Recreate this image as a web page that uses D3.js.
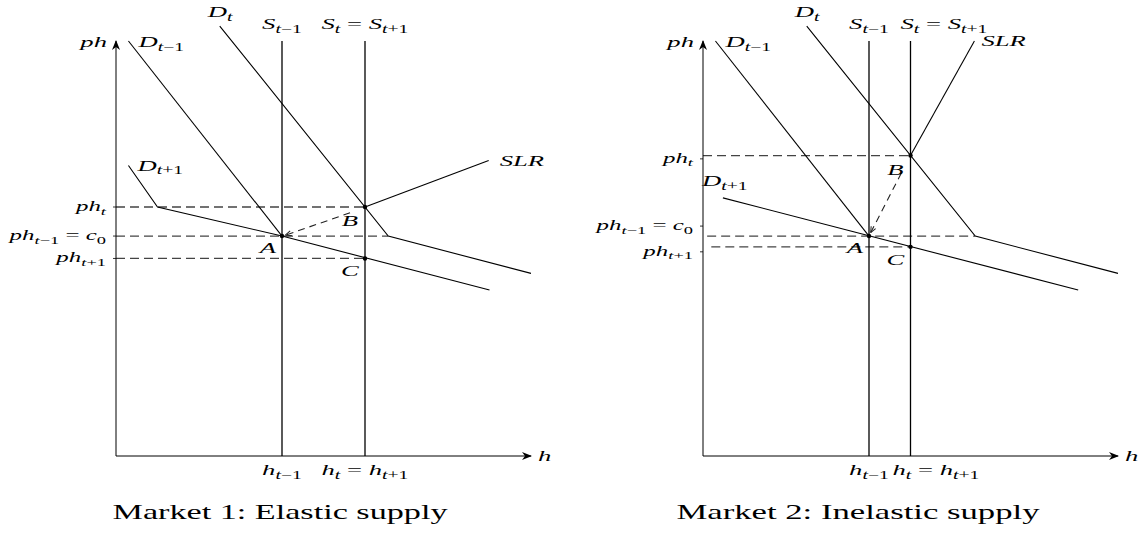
<!DOCTYPE html>
<html>
<head>
<meta charset="utf-8">
<script src="https://cdn.jsdelivr.net/npm/d3@7"></script>
<style>
  body { margin: 0; background: #fff; }
  text { font-family: "Liberation Serif", serif; fill: #000; }
</style>
</head>
<body>
<div id="chart"></div>
<script>
// both axes run 0..5 in model units
var axisMax = 5;
var captions = ["Market 1: Elastic supply", "Market 2: Inelastic supply"];

// demand curves shared by both markets
var demandPrev = [[0.15, 5.0], [2, 2.65]];
var demandNow = [[1.25, 5.18], [3.28, 2.65], [5.0, 2.2]];

// market 1 (elastic)
var supply1 = [2, 3];                 // h_{t-1}, h_t = h_{t+1}
var prices1 = [3.0, 2.65, 2.38];      // ph_t, ph_{t-1}, ph_{t+1}
var priceLabelY1 = [3.0, 2.65, 2.38];
var dashStart1 = [0, 0, 0];
var demandNext1 = [[0.15, 3.5], [0.5, 3.0], [2, 2.65], [4.5, 2.0]];
var slr1 = [[3, 3.0], [4.49, 3.56]];
var arrowBA1 = [[2.82, 2.93], [2.04, 2.66]];

// market 2 (inelastic)
var supply2 = [2, 2.5];
var prices2 = [3.62, 2.65, 2.52];
var priceLabelY2 = [3.58, 2.77, 2.46];
var dashStart2 = [0, 0.05, 0.1];
var demandNext2 = [[0.24, 3.11], [4.52, 2.0]];
var slr2 = [[2.5, 3.62], [3.27, 5.0]];
var arrowBA2 = [[2.39, 3.41], [2.02, 2.69]];

var W = 1139, H = 536;
var SX = 1.72;   // glyphs in the figure are stretched sideways

var panels = [
  { left: 116, captionX: 280, captionLen: 335, caption: captions[0],
    h: supply1, p: prices1, pLab: priceLabelY1, dashStart: dashStart1,
    dNext: demandNext1, slr: slr1, arrow: arrowBA1, inelastic: false },
  { left: 703, captionX: 858, captionLen: 363, caption: captions[1],
    h: supply2, p: prices2, pLab: priceLabelY2, dashStart: dashStart2,
    dNext: demandNext2, slr: slr2, arrow: arrowBA2, inelastic: true }
];

var svg = d3.select("#chart").append("svg")
    .attr("width", W)
    .attr("height", H);

svg.append("rect").attr("width", W).attr("height", H).attr("fill", "#fff");

var defs = svg.append("defs");
defs.append("marker")
    .attr("id", "axisArrow")
    .attr("markerUnits", "userSpaceOnUse")
    .attr("viewBox", "-10 -5 12 10")
    .attr("refX", 0).attr("refY", 0)
    .attr("markerWidth", 12).attr("markerHeight", 10)
    .attr("orient", "auto")
    .append("path")
    .attr("d", "M1,0 L-9,-4 L-6,0 L-9,4 Z")
    .attr("fill", "#000");
defs.append("marker")
    .attr("id", "dashArrow")
    .attr("markerUnits", "userSpaceOnUse")
    .attr("viewBox", "-8 -4 10 8")
    .attr("refX", 0).attr("refY", 0)
    .attr("markerWidth", 10).attr("markerHeight", 8)
    .attr("orient", "auto")
    .append("path")
    .attr("d", "M0,0 L-6,-2.5 M0,0 L-6,2.5")
    .attr("stroke", "#222")
    .attr("stroke-width", 1)
    .attr("fill", "none");

// tiny TeX-ish label: letters italic, _x or _{..} as subscripts
function mathLabel(g, x, y, str, anchor, size) {
  size = size || 15.5;
  var t = g.append("text")
      .attr("transform", "translate(" + x + "," + y + ") scale(" + SX + ",1)")
      .attr("text-anchor", anchor || "start")
      .style("font-size", size + "px")
      .style("white-space", "pre");
  var inSub = false;
  function addRun(s, isSub) {
    var pieces = s.match(/[A-Za-z]+|[^A-Za-z]+/g) || [];
    pieces.forEach(function(piece) {
      var ts = t.append("tspan")
          .style("font-size", (isSub ? size * 0.74 : size) + "px")
          .style("font-style", /[A-Za-z]/.test(piece) ? "italic" : "normal")
          .text(piece.replace(/-/g, "\u2212").replace(/ = /g, "  =  ".slice(1, 4)));
      if (isSub && !inSub) ts.attr("dy", size * 0.25);
      if (!isSub && inSub) ts.attr("dy", -size * 0.25);
      inSub = isSub;
    });
  }
  var i = 0;
  while (i < str.length) {
    if (str[i] === "_") {
      var sub;
      if (str[i + 1] === "{") {
        var close = str.indexOf("}", i);
        sub = str.slice(i + 2, close);
        i = close + 1;
      } else {
        sub = str[i + 1];
        i += 2;
      }
      addRun(sub, true);
    } else {
      var j = i;
      while (j < str.length && str[j] !== "_") j++;
      addRun(str.slice(i, j), false);
      i = j;
    }
  }
  return t;
}

panels.forEach(function(pn) {
  var x = d3.scaleLinear().domain([0, axisMax]).range([pn.left, pn.left + 415]);
  var y = d3.scaleLinear().domain([0, axisMax]).range([456, 41]);
  var line = d3.line().x(function(d) { return x(d[0]); }).y(function(d) { return y(d[1]); });
  var g = svg.append("g");

  var A = [pn.h[0], pn.p[1]],
      B = [pn.h[1], pn.p[0]],
      C = [pn.h[1], pn.p[2]];

  // dashed price guides
  var guideEnd = [pn.h[1], demandNow[1][0], pn.h[1]];
  pn.p.forEach(function(v, i) {
    g.append("line")
        .attr("x1", x(pn.dashStart[i])).attr("x2", x(guideEnd[i]))
        .attr("y1", y(v)).attr("y2", y(v))
        .attr("stroke", "#444")
        .attr("stroke-width", 1.3)
        .attr("stroke-dasharray", "9,5");
  });

  // axes
  g.append("line")
      .attr("x1", x(0)).attr("y1", y(0))
      .attr("x2", x(0)).attr("y2", y(axisMax))
      .attr("stroke", "#000").attr("stroke-width", 1)
      .attr("marker-end", "url(#axisArrow)");
  g.append("line")
      .attr("x1", x(0)).attr("y1", y(0))
      .attr("x2", x(axisMax)).attr("y2", y(0))
      .attr("stroke", "#000").attr("stroke-width", 1)
      .attr("marker-end", "url(#axisArrow)");

  // small ticks next to the price labels
  pn.pLab.forEach(function(v) {
    g.append("line")
        .attr("x1", x(0) - 3).attr("x2", x(0))
        .attr("y1", y(v)).attr("y2", y(v))
        .attr("stroke", "#000").attr("stroke-width", 0.8);
  });

  // vertical supply lines
  pn.h.forEach(function(v) {
    g.append("line")
        .attr("x1", x(v)).attr("x2", x(v))
        .attr("y1", y(0)).attr("y2", y(axisMax))
        .attr("stroke", "#000").attr("stroke-width", 1.3);
  });

  // demand curves and SLR
  [demandPrev, demandNow, pn.dNext, pn.slr].forEach(function(pts) {
    g.append("path")
        .attr("d", line(pts))
        .attr("fill", "none")
        .attr("stroke", "#000")
        .attr("stroke-width", 1.1);
  });

  // B -> A adjustment
  g.append("path")
      .attr("d", line(pn.arrow))
      .attr("fill", "none")
      .attr("stroke", "#222")
      .attr("stroke-width", 1.1)
      .attr("stroke-dasharray", "7,5")
      .attr("marker-end", "url(#dashArrow)");

  [A, B, C].forEach(function(d) {
    g.append("circle")
        .attr("cx", x(d[0])).attr("cy", y(d[1]))
        .attr("r", 2.2)
        .attr("fill", "#000");
  });

  // axis labels
  mathLabel(g, x(0) - 9, y(axisMax) + 6, "ph", "end");
  mathLabel(g, x(axisMax) + 7, y(0) + 5, "h", "start");

  // curve labels
  mathLabel(g, x(demandPrev[0][0]) + 10, y(demandPrev[0][1]) + 6, "D_{t-1}", "start");
  mathLabel(g, x(demandNow[0][0]) - 12, y(demandNow[0][1]) - 9, "D_t", "start");
  mathLabel(g, x(pn.h[0]), 29, "S_{t-1}", "middle");
  if (pn.inelastic) {
    mathLabel(g, x(pn.h[1]) - 10, 29, "S_t = S_{t+1}", "start");
    mathLabel(g, x(pn.slr[1][0]) + 7, y(pn.slr[1][1]) + 5, "SLR", "start");
    mathLabel(g, x(pn.dNext[0][0]) - 21, y(pn.dNext[0][1]) - 12, "D_{t+1}", "start");
  } else {
    mathLabel(g, x(pn.h[1]), 29, "S_t = S_{t+1}", "middle");
    mathLabel(g, x(pn.slr[1][0]) + 11, y(pn.slr[1][1]) + 5, "SLR", "start");
    mathLabel(g, x(pn.dNext[0][0]) + 9, y(pn.dNext[0][1]) + 5, "D_{t+1}", "start");
  }

  // price labels
  var priceNames = ["ph_t", "ph_{t-1} = c_0", "ph_{t+1}"];
  pn.pLab.forEach(function(v, i) {
    mathLabel(g, x(0) - 10, y(v) + 4, priceNames[i], "end", 14.5);
  });

  // quantity labels
  mathLabel(g, x(pn.h[0]), 475, "h_{t-1}", "middle");
  if (pn.inelastic) {
    mathLabel(g, x(pn.h[1]) - 18, 475, "h_t = h_{t+1}", "start");
  } else {
    mathLabel(g, x(pn.h[1]), 475, "h_t = h_{t+1}", "middle");
  }

  // point labels
  mathLabel(g, x(A[0]) - 14, y(A[1]) + 17, "A", "middle");
  mathLabel(g, x(B[0]) - 15, y(B[1]) + 19, "B", "middle");
  mathLabel(g, x(C[0]) - 15, y(C[1]) + 18, "C", "middle");

  // caption
  g.append("text")
      .attr("x", pn.captionX - pn.captionLen / 2)
      .attr("y", 519)
      .attr("textLength", pn.captionLen)
      .attr("lengthAdjust", "spacingAndGlyphs")
      .style("font-size", "21px")
      .text(pn.caption);
});
</script>
</body>
</html>
